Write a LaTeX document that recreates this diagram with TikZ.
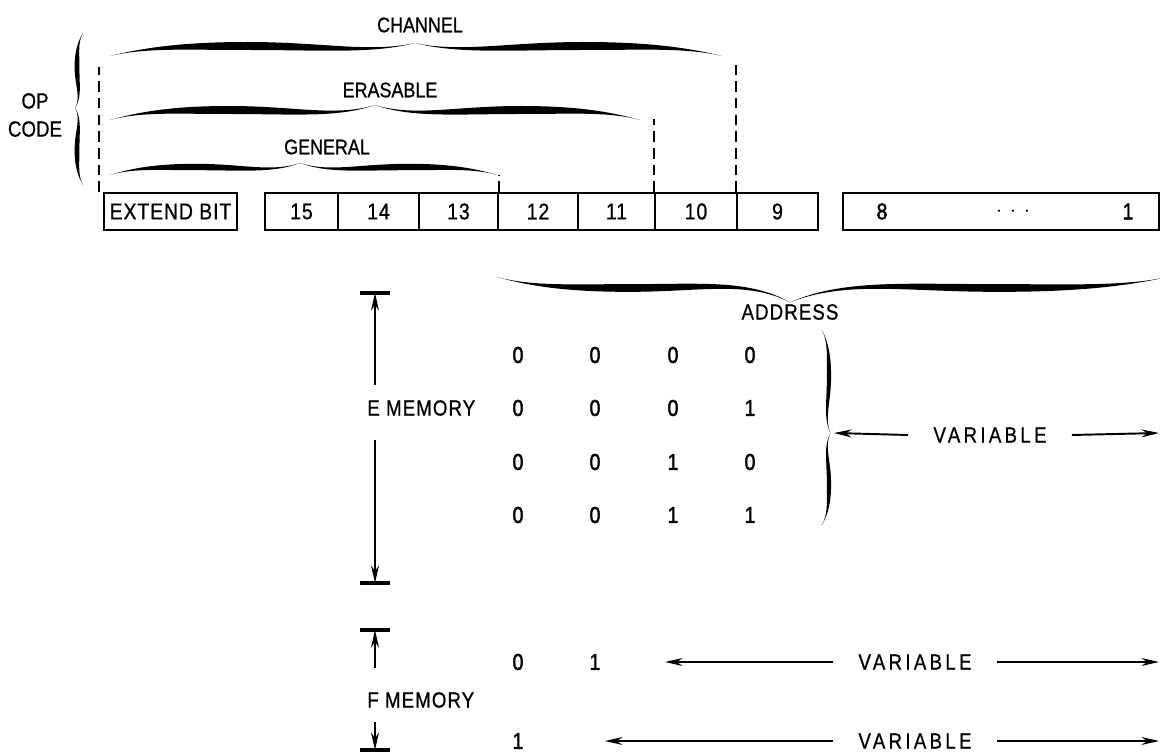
\documentclass[tikz,border=0pt]{standalone}
\usepackage{fontspec}
\setmainfont[FakeStretch=0.85, FakeBold=0.8]{Liberation Sans}
\usetikzlibrary{arrows.meta}

% one half of a hand drawn brace, drawn in a unit frame
% #1 transform, #2 half thickness, #3 height of the tip
\newcommand{\halfbrace}[3]{%
  \fill[#1] (0,0) .. controls (0.12,0.9) and (0.25,1+#2) .. (0.45,1+#2)
    .. controls (0.7,1+#2) and (0.85,0.3) .. (1,#3)
    .. controls (0.86,0.2) and (0.7,1-#2) .. (0.45,1-#2)
    .. controls (0.25,1-#2) and (0.12,0.85) .. cycle;}

\begin{document}
\begin{tikzpicture}[x=0.02cm, y=-0.02cm, >={Stealth[length=10pt,width=4.5pt]},
    lbl/.style={font=\fontsize{12}{16}\selectfont, inner sep=0pt},
    biglbl/.style={font=\fontsize{12.5}{15}\selectfont\addfontfeature{LetterSpace=5}, inner sep=0pt},
    varlbl/.style={font=\fontsize{12.5}{15}\selectfont\addfontfeature{LetterSpace=15},
      inner sep=0pt, inner xsep=0.5cm},
    digit/.style={font=\fontsize{13}{15}\selectfont\addfontfeature{FakeBold=2}, inner sep=0pt},
    bitbox/.style={draw, line width=1.2pt, minimum height=0.74cm, inner sep=0pt,
      font=\fontsize{13}{15}\selectfont\addfontfeature{LetterSpace=4}},
    dashline/.style={line width=1.1pt, dash pattern=on 6pt off 3.5pt},
    dimline/.style={line width=1.1pt},
    endbar/.style={line width=1.8pt}]
    \useasboundingbox (0,0) rectangle (1160,753);

    % Instruction word
    \node[bitbox, minimum width=2.66cm] (extend) at (170.5,211.5) {EXTEND BIT};
    \node[bitbox, minimum width=1.46cm] (b15) at (301.5,211.5) {15};
    \node[bitbox, minimum width=1.62cm] (b14) at (378.5,211.5) {14};
    \node[bitbox, minimum width=1.58cm] (b13) at (458.5,211.5) {13};
    \node[bitbox, minimum width=1.60cm] (b12) at (538,211.5) {12};
    \node[bitbox, minimum width=1.54cm] (b11) at (616.5,211.5) {11};
    \node[bitbox, minimum width=1.64cm] (b10) at (696,211.5) {10};
    \node[bitbox, minimum width=1.62cm] (b9) at (777.5,211.5) {9};
    \node[bitbox, minimum width=6.32cm] (b81) at (1001,211.5) {};
    \node[digit] (b8) at (882,211.5) {8};
    \node[lbl] (bdots) at (1013,211.5) {$\cdot\,\cdot\,\cdot$};
    \node[digit] (b1) at (1128,211.5) {1};

    % Op code fields
    \node[lbl] (channel) at (420,25) {CHANNEL};
    \node[lbl] (erasable) at (390,90) {ERASABLE};
    \node[lbl] (general) at (327,147) {GENERAL};
    \node[lbl, align=center, font=\fontsize{12.5}{16}\selectfont] (opcode) at (35,115) {OP\\CODE};

    \halfbrace{shift={(110,56)}, xscale=305, yscale=-10}{0.4}{1.3}
    \halfbrace{shift={(722,56)}, xscale=-307, yscale=-10}{0.4}{1.3}
    \halfbrace{shift={(110,120)}, xscale=265, yscale=-10}{0.4}{1.5}
    \halfbrace{shift={(640,120)}, xscale=-265, yscale=-10}{0.4}{1.5}
    \halfbrace{shift={(110,175)}, xscale=190, yscale=-8}{0.4}{1.5}
    \halfbrace{shift={(497,175)}, xscale=-197, yscale=-8}{0.4}{1.5}
    \halfbrace{shift={(83,33)}, rotate=-90, xscale=75, yscale=6}{0.4}{1.3}
    \halfbrace{shift={(83,185)}, rotate=90, xscale=77, yscale=-6}{0.4}{1.3}

    \draw[dashline] ([xshift=-0.08cm]extend.north west) -- ++(0,-125);
    \draw[dashline] (b9.north west) -- ++(0,-133);
    \draw[dashline] (b10.north west) -- ++(0,-73);
    \draw[dashline] (b13.north east) -- ++(0,-17);

    % Address field
    \halfbrace{shift={(497,277)}, xscale=293, yscale=11}{0.35}{2.3}
    \halfbrace{shift={(1168,277)}, xscale=-378, yscale=11}{0.35}{2.3}
    \node[biglbl] (address) at (790,312) {ADDRESS};

    % E memory
    \node[digit] (e1a) at (518,355) {0};
    \node[digit] (e1b) at (595,355) {0};
    \node[digit] (e1c) at (673,355) {0};
    \node[digit] (e1d) at (750,355) {0};
    \node[digit] (e2a) at (518,408) {0};
    \node[digit] (e2b) at (595,408) {0};
    \node[digit] (e2c) at (673,408) {0};
    \node[digit] (e2d) at (750,408) {1};
    \node[digit] (e3a) at (518,462) {0};
    \node[digit] (e3b) at (595,462) {0};
    \node[digit] (e3c) at (673,462) {1};
    \node[digit] (e3d) at (750,462) {0};
    \node[digit] (e4a) at (518,515) {0};
    \node[digit] (e4b) at (595,515) {0};
    \node[digit] (e4c) at (673,515) {1};
    \node[digit] (e4d) at (750,515) {1};

    \halfbrace{shift={(822,330)}, rotate=-90, xscale=103, yscale=-7}{0.3}{1.2}
    \halfbrace{shift={(822,525)}, rotate=90, xscale=92, yscale=7}{0.3}{1.2}
    \coordinate (etip) at (834,433);
    \coordinate (eend) at (1159,433);
    \node[varlbl] (evar) at (990,435) {VARIABLE};
    \draw[->, dimline] (evar.west) -- (etip);
    \draw[->, dimline] (evar.east) -- (eend);

    \node[biglbl, anchor=west] (ememory) at (367,408) {E MEMORY};
    \coordinate (etop) at (375,293);
    \coordinate (ebot) at (375,583);
    \coordinate (eup) at (375,385);
    \coordinate (edown) at (375,440);
    \draw[endbar] ([xshift=-0.3cm]etop) -- ([xshift=0.3cm]etop);
    \draw[endbar] ([xshift=-0.3cm]ebot) -- ([xshift=0.3cm]ebot);
    \draw[->, dimline] (eup) -- (etop);
    \draw[->, dimline] (edown) -- (ebot);

    % F memory
    \node[digit] (f1a) at (518,662) {0};
    \node[digit] (f1b) at (595,662) {1};
    \node[digit] (f2a) at (518,741) {1};
    \coordinate (f1tip) at (665,662);
    \coordinate (f1end) at (1159,662);
    \coordinate (f2tip) at (605,741);
    \coordinate (f2end) at (1159,741);
    \node[varlbl] (fvar1) at (915,662) {VARIABLE};
    \node[varlbl] (fvar2) at (915,741) {VARIABLE};
    \draw[->, dimline] (fvar1.west) -- (f1tip);
    \draw[->, dimline] (fvar1.east) -- (f1end);
    \draw[->, dimline] (fvar2.west) -- (f2tip);
    \draw[->, dimline] (fvar2.east) -- (f2end);

    \node[biglbl, anchor=west] (fmemory) at (367,700) {F MEMORY};
    \coordinate (ftop) at (375,630);
    \coordinate (fbot) at (375,750);
    \coordinate (fup) at (375,668);
    \coordinate (fdown) at (375,722);
    \draw[endbar] ([xshift=-0.3cm]ftop) -- ([xshift=0.3cm]ftop);
    \draw[endbar] ([xshift=-0.3cm]fbot) -- ([xshift=0.3cm]fbot);
    \draw[->, dimline] (fup) -- (ftop);
    \draw[->, dimline] (fdown) -- (fbot);
\end{tikzpicture}
\end{document}
